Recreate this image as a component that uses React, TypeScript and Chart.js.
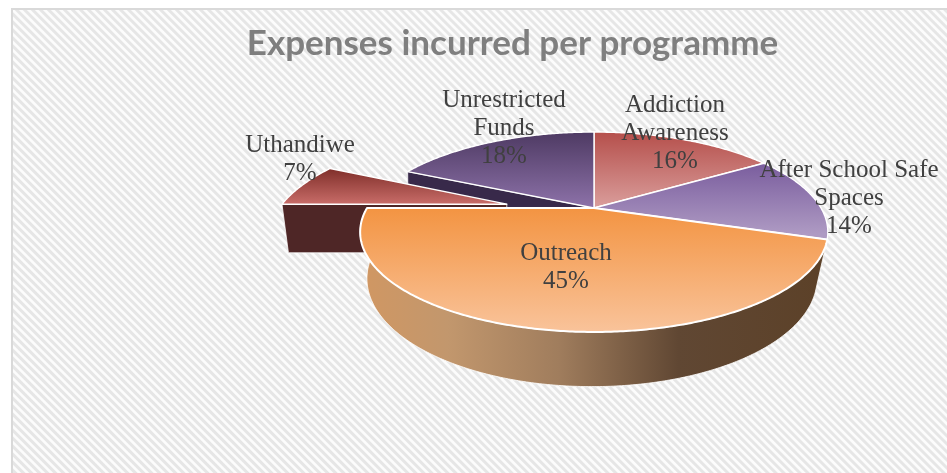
import React, { useEffect, useRef } from "react";
import { Chart, registerables } from "chart.js";

Chart.register(...registerables);

const categories = ["Addiction Awareness", "After School Safe Spaces", "Outreach", "Uthandiwe", "Unrestricted Funds"];
const expenseShares = [16, 14, 45, 7, 18];
const labelLines = [["Addiction", "Awareness"], ["After School Safe", "Spaces"], ["Outreach"], ["Uthandiwe"], ["Unrestricted", "Funds"]];
const titleText = "Expenses incurred per programme";

const labelAnchors = [
  { x: 675, y: 105 },
  { x: 849, y: 170 },
  { x: 566, y: 253 },
  { x: 300, y: 145 },
  { x: 504, y: 100 },
];
const topGradients = [
  { y0: 132, y1: 208, c0: "#b54f4b", c1: "#da9e9c" },
  { y0: 160, y1: 234, c0: "#775a9c", c1: "#ae9ac3" },
  { y0: 208, y1: 334, c0: "#f39442", c1: "#f9c49c" },
  { y0: 166, y1: 204, c0: "#7a2a25", c1: "#c86c68" },
  { y0: 132, y1: 208, c0: "#4e3a63", c1: "#8d72a9" },
];
const faceColors = ["#5e2a28", "#3e2f55", "#7a4a20", "#4e2626", "#38294a"];
const TOP = { cx: 594, cy: 208, rx: 227, ry: 94.2, p: 0.24 };
const BOTTOM = { cx: 592, cy: 257, rx: 220.5, ry: 103.7, p: 0.2 };
const EXPLODED = 3;
const EXPLODE = { u: -0.388, v: 0.041 };

type Disk = typeof TOP;
const project = (d: Disk, u: number, v: number) => {
  const w = 1 + d.p * v;
  return { x: d.cx + (d.rx * u) / w, y: d.cy - (d.ry * v) / w };
};
const rimPoints = (d: Disk, a0: number, a1: number, ou = 0, ov = 0) => {
  const pts: { x: number; y: number }[] = [];
  const n = Math.max(2, Math.ceil(Math.abs(a1 - a0) / 0.01));
  for (let i = 0; i <= n; i++) {
    const a = a0 + ((a1 - a0) * i) / n;
    pts.push(project(d, Math.sin(a) + ou, Math.cos(a) + ov));
  }
  return pts;
};
const tracePoly = (ctx: CanvasRenderingContext2D, pts: { x: number; y: number }[]) => {
  ctx.beginPath();
  pts.forEach((p, i) => (i ? ctx.lineTo(p.x, p.y) : ctx.moveTo(p.x, p.y)));
  ctx.closePath();
};

const pie3d = {
  id: "pie3d",
  beforeDatasetsDraw(chart: any) {
    const ctx: CanvasRenderingContext2D = chart.ctx;
    const arcs = chart.getDatasetMeta(0).data;
    const ang = (i: number) => [arcs[i].startAngle + Math.PI / 2, arcs[i].endAngle + Math.PI / 2];
    const offs = (i: number) => (i === EXPLODED ? EXPLODE : { u: 0, v: 0 });

    const drawTop = (i: number) => {
      const [a0, a1] = ang(i);
      const o = offs(i);
      const pts = [project(TOP, o.u, o.v), ...rimPoints(TOP, a0, a1, o.u, o.v)];
      const g = topGradients[i];
      const grad = ctx.createLinearGradient(0, g.y0, 0, g.y1);
      grad.addColorStop(0, g.c0);
      grad.addColorStop(1, g.c1);
      tracePoly(ctx, pts);
      ctx.fillStyle = grad;
      ctx.fill();
      ctx.strokeStyle = "#ffffff";
      ctx.lineWidth = i === 2 ? 2 : 1.4;
      ctx.lineJoin = "round";
      ctx.stroke();
    };
    const drawCutFace = (i: number, a: number) => {
      const o = offs(i);
      const u = Math.sin(a) + o.u;
      const v = Math.cos(a) + o.v;
      tracePoly(ctx, [project(TOP, u, v), project(TOP, o.u, o.v), project(BOTTOM, o.u, o.v), project(BOTTOM, u, v)]);
      ctx.fillStyle = faceColors[i];
      ctx.fill();
      ctx.strokeStyle = "rgba(255,255,255,0.75)";
      ctx.lineWidth = 1;
      ctx.stroke();
    };

    drawTop(0);
    drawTop(1);
    drawCutFace(4, ang(4)[0]);
    drawTop(4);
    drawCutFace(3, ang(3)[0]);
    drawTop(3);

    const [oa0, oa1] = ang(2);
    const wall = [...rimPoints(TOP, oa0, oa1), ...rimPoints(BOTTOM, oa1, oa0)];
    const wallGrad = ctx.createLinearGradient(365, 0, 826, 0);
    wallGrad.addColorStop(0, "#d09763");
    wallGrad.addColorStop(0.18, "#c2976d");
    wallGrad.addColorStop(0.42, "#a07d5d");
    wallGrad.addColorStop(0.68, "#604733");
    wallGrad.addColorStop(1, "#5c4128");
    tracePoly(ctx, wall);
    ctx.fillStyle = wallGrad;
    ctx.fill();
    ctx.strokeStyle = "rgba(255,255,255,0.8)";
    ctx.lineWidth = 1;
    ctx.stroke();
    drawTop(2);

    ctx.fillStyle = "#404040";
    ctx.font = '25px "Liberation Serif"';
    ctx.textAlign = "center";
    ctx.textBaseline = "middle";
    const total = expenseShares.reduce((s, x) => s + x, 0);
    labelLines.forEach((lines, i) => {
      const rows = [...lines, `${Math.round((expenseShares[i] / total) * 100)}%`];
      rows.forEach((t, r) => ctx.fillText(t, labelAnchors[i].x, labelAnchors[i].y + r * 28));
    });
    return false;
  },
};

export default function App() {
  const ref = useRef<HTMLCanvasElement>(null);
  useEffect(() => {
    const chart = new Chart(ref.current!, {
      type: "pie",
      data: {
        labels: categories,
        datasets: [{ data: expenseShares, backgroundColor: topGradients.map((g) => g.c0) }],
      },
      options: {
        responsive: false,
        animation: false,
        rotation: 0,
        layout: { padding: { left: 78 } },
        plugins: {
          legend: { display: false },
          tooltip: { enabled: false },
          title: {
            display: true,
            text: titleText,
            color: "#7f7f7f",
            font: { family: "Lato", size: 35, weight: "bold" },
            padding: { top: 23, bottom: 10 },
          },
        },
      },
      plugins: [pie3d],
    } as any);
    return () => chart.destroy();
  }, []);
  return (
    <div style={{ position: "fixed", left: 0, top: 0, width: 947, height: 473, background: "#fff", overflow: "hidden" }}>
      <div
        style={{
          position: "absolute",
          left: 11,
          top: 8,
          width: 960,
          height: 490,
          boxSizing: "border-box",
          border: "2px solid #d9d9d9",
          background:
            "repeating-linear-gradient(45deg,#e6e6e6 0px,#e6e6e6 2px,#fcfcfc 3px,#fcfcfc 4.7px,#e6e6e6 5.66px)",
        }}
      />
      <canvas ref={ref} width={947} height={473} style={{ position: "absolute", left: 0, top: 0 }} />
    </div>
  );
}
